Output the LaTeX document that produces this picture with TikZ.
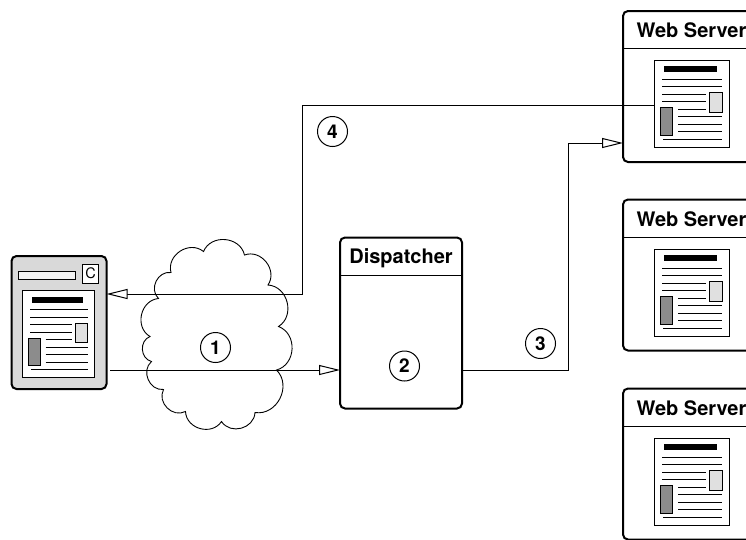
\documentclass[tikz,border=0pt]{standalone}
\usepackage{fontspec}
\setmainfont{TeX Gyre Heros}
\usetikzlibrary{arrows.meta}

\tikzset{
  box/.style={draw,line width=2pt,rounded corners=5pt,fill=white,inner sep=0pt,outer sep=0pt},
  title/.style={font=\fontsize{20}{24}\selectfont\bfseries,inner sep=0pt},
  num/.style={draw,circle,line width=1pt,minimum size=30pt,inner sep=0pt,font=\fontsize{19}{20}\selectfont\bfseries},
  flow/.style={line width=1pt},
  flowto/.style={flow,-{Triangle[open,fill=white,length=21pt,width=10pt,line width=1pt]}},
  sheet/.style={draw,line width=1pt,fill=white,inner sep=0pt,outer sep=0pt,minimum height=87pt,anchor=north west},
  textline/.style={line width=1pt},
  bump/.style={bend left=72,looseness=1.2}
}

% one printed page, from its upper left corner
\newcommand{\pageicon}[4]{%
  \node[sheet,minimum width=#4*75pt] (#1) at (#2,#3) {};
  \begin{scope}[shift={(#2,#3)},xscale=#4]
    \fill (10,6) rectangle (63,12);
    \draw[textline] (8,19)--(68,19); \draw[textline] (8,26.5)--(68,26.5);
    \draw[textline] (8,34)--(52,34); \draw[textline] (8,41.5)--(52,41.5);
    \draw[textline] (24,49)--(52,49);
    \draw[textline] (24,56.5)--(68,56.5); \draw[textline] (24,64)--(68,64);
    \draw[textline] (24,71.5)--(68,71.5);
    \draw[textline] (9,79)--(68,79);
    \draw[line width=1pt,fill=black!12] (55.5,32.5) rectangle (68,52);
    \draw[line width=1pt,fill=black!45] (6.5,47.5) rectangle (18.5,75);
  \end{scope}
}

\begin{document}
\begin{tikzpicture}[x=1pt,y=-1pt]
\useasboundingbox (0,0) rectangle (746,539);

% cloud
\draw[line width=.9pt] (171,272.5) to[bump] (203.5,251.5)
  to[bump] (244.5,255)
  to[bump] (268,285)
  to[bump] (278.5,326.5)
  to[bump] (276.5,370)
  to[bump] (255,412.5)
  to[bump] (221.5,421.5)
  to[bump] (185.5,411.5)
  to[bump] (163.5,389.5)
  to[bump] (151.5,361.5)
  to[bump] (150,336.5)
  to[bump] (158.5,298.5)
  to[bump] cycle;

% client
\node[box,fill=black!15,minimum width=95pt,minimum height=133pt] (client) at (59,322.5) {};
\node[draw,line width=1pt,fill=black!5,inner sep=0pt,minimum width=57pt,minimum height=7.5pt] (bar) at (47,275.5) {};
\node[draw,line width=1pt,fill=white,inner sep=0pt,minimum width=16pt,minimum height=19pt,font=\fontsize{14.5}{15}\selectfont] (reload) at (90.5,273.5) {C};
\pageicon{pageC}{22.5}{290.5}{.96}

% dispatcher
\node[box,minimum width=122pt,minimum height=171pt] (dispatcher) at (401,323) {};
\draw[flow] (dispatcher.west |- 0,275) -- (dispatcher.east |- 0,275);
\node[title] (dtitle) at (401,258.5) {Dispatcher};

% web servers
\foreach \nm/\ymid/\yline/\ytxt/\ypage in {A/86.5/48.5/30/60,B/275/237.5/219/249,D/464/426/408/438}{
  \node[box,minimum width=150pt,minimum height=151pt] (server\nm) at (698,\ymid) {};
  \draw[flow] (server\nm.west |- 0,\yline) -- (746,\yline);
  \node[title,anchor=west] (stitle\nm) at (636.5,\ytxt) {Web Server};
  \pageicon{page\nm}{654}{\ypage}{1}
}

% connectors
\coordinate (start) at (110,370);
\coordinate (bendC) at (568,143);
\coordinate (bendD) at (302.5,105);
\coordinate (backC) at (302.5,294);
\draw[flowto] (start) -- (start -| dispatcher.west);
\draw[flowto] (dispatcher.east |- start) -| (bendC) -- (bendC -| serverA.west);
\draw[flowto] (pageA.west |- bendD) -- (bendD) -- (backC) -- (backC -| client.east);

% steps
\node[num] (one) at (215.5,347.5) {1};
\node[num] (two) at (404.5,366) {2};
\node[num] (three) at (540.5,343.5) {3};
\node[num] (four) at (332.5,131.5) {4};
\end{tikzpicture}
\end{document}
